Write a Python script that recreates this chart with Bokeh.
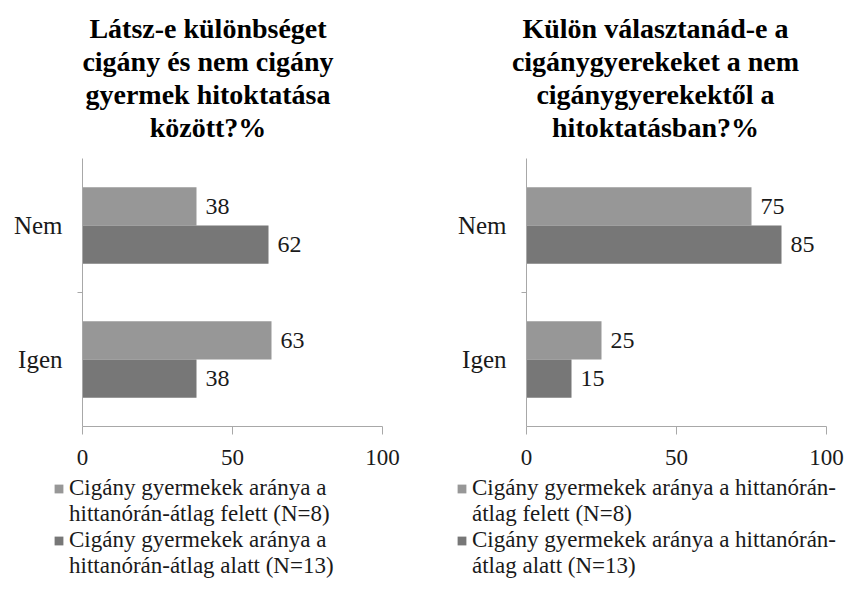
from bokeh.plotting import figure
from bokeh.layouts import row, column
from bokeh.models import (FactorRange, Range1d, LinearAxis, CategoricalAxis, FixedTicker,
                          Legend, LegendItem, ColumnDataSource, CategoricalScale, Title)
from bokeh.transform import dodge
from bokeh.core.properties import value
from bokeh.embed import file_html
from bokeh.resources import INLINE

# ---- data ----
categories = ["Igen", "Nem"]          # bottom to top
x_ticks = [0, 50, 100]

left_title = ["Látsz-e különbséget", "cigány és nem cigány", "gyermek hitoktatása", "között?%"]
left_above = [63, 38]   # Cigány gyermekek aránya a hittanórán-átlag felett (N=8)
left_below = [38, 62]   # Cigány gyermekek aránya a hittanórán-átlag alatt (N=13)
left_legend = [["Cigány gyermekek aránya a", "hittanórán-átlag felett (N=8)"],
               ["Cigány gyermekek aránya a", "hittanórán-átlag alatt (N=13)"]]

right_title = ["Külön választanád-e a", "cigánygyerekeket a nem", "cigánygyerekektől a", "hitoktatásban?%"]
right_above = [25, 75]
right_below = [15, 85]
right_legend = [["Cigány gyermekek aránya a hittanórán-", "átlag felett (N=8)"],
                ["Cigány gyermekek aránya a hittanórán-", "átlag alatt (N=13)"]]

SERIF = "Liberation Serif"
LIGHT = "#979797"
DARK = "#777777"
AXIS = "#a8a8a8"
TXT = "#1a1a1a"

MAIN_H = 476
LEG_H = 103


def make_panel(title_lines, above_vals, below_vals, width, bl, br, shift_pad):
    p = figure(width=width, height=MAIN_H, title=None,
               y_range=FactorRange(factors=categories, range_padding=0),
               x_range=Range1d(0, 100),
               output_backend="svg", toolbar_location=None,
               x_axis_location=None, y_axis_location=None,
               min_border_left=bl, min_border_right=br,
               min_border_top=158, min_border_bottom=50)
    p.grid.visible = False
    p.outline_line_color = None

    src = ColumnDataSource(dict(cat=categories, above=above_vals, below=below_vals,
                                above_txt=[str(v) for v in above_vals],
                                below_txt=[str(v) for v in below_vals]))
    p.hbar(y=dodge('cat', 0.143, range=p.y_range), left=0, right='above', height=0.285,
           fill_color=LIGHT, line_color=None, source=src)
    p.hbar(y=dodge('cat', -0.143, range=p.y_range), left=0, right='below', height=0.285,
           fill_color=DARK, line_color=None, source=src)
    for col, off in (("above", 0.143), ("below", -0.143)):
        p.text(x=col, y=dodge('cat', off, range=p.y_range), text=col + "_txt", source=src,
               x_offset=9, text_baseline="middle", text_align="left",
               text_font=value(SERIF), text_font_size="24px", text_color=TXT)

    xaxis = LinearAxis(ticker=FixedTicker(ticks=x_ticks), axis_line_color=AXIS,
                       major_tick_line_color=AXIS, major_tick_out=8, major_tick_in=0,
                       minor_tick_line_color=None, major_label_standoff=15,
                       major_label_text_font=SERIF, major_label_text_font_size="23px",
                       major_label_text_color=TXT)
    p.add_layout(xaxis, "below")

    # boundary ticks of the category axis (at the edges between categories)
    p.extra_y_ranges = {"b": FactorRange(factors=["b0", "b1", "b2"], range_padding=-0.5,
                                         range_padding_units="absolute")}
    p.extra_y_scales = {"b": CategoricalScale()}
    tick_axis = CategoricalAxis(y_range_name="b",
                                axis_line_color=AXIS, major_tick_line_color=AXIS,
                                major_tick_out=5, major_tick_in=0,
                                major_label_text_font_size="0px", major_label_text_alpha=0,
                                major_label_standoff=0)
    p.add_layout(tick_axis, "left")
    cat_axis = CategoricalAxis(axis_line_color=None, major_tick_line_color=None,
                               major_label_standoff=9, major_label_text_font=SERIF,
                               major_label_text_font_size="25px", major_label_text_color=TXT)
    p.add_layout(cat_axis, "left")

    # gap between the title block and the plot
    p.add_layout(Title(text=" ", text_font_size="12px", standoff=0), "above")
    # multi-line title: one centred Title per line, last line nearest the plot;
    # trailing no-break spaces move the centred lines a little to the left
    for line in reversed(title_lines):
        p.add_layout(Title(text=line + "\u00a0" * shift_pad, align="center",
                           text_font=SERIF, text_font_size="28px", text_font_style="bold",
                           text_color="#000000", standoff=0), "above")
    return p


def make_legend(labels, width, loc):
    q = figure(width=width, height=LEG_H, x_range=Range1d(0, 1), y_range=Range1d(0, 1),
               output_backend="svg", toolbar_location=None, title=None,
               x_axis_location=None, y_axis_location=None,
               min_border=0, min_border_left=0, min_border_right=0,
               min_border_top=0, min_border_bottom=0)
    q.grid.visible = False
    q.outline_line_color = None
    # zero-length placeholder bars, only used to draw the legend swatches
    holder = ColumnDataSource(dict(y=[0.5], right=[0]))
    r1 = q.hbar(y='y', left=0, right='right', height=0.1, fill_color=LIGHT, line_color=None, source=holder)
    r2 = q.hbar(y='y', left=0, right='right', height=0.1, fill_color=DARK, line_color=None, source=holder)
    rb = q.hbar(y='y', left=0, right='right', height=0.1, fill_alpha=0, line_alpha=0, source=holder)
    items = [LegendItem(label=labels[0][0], renderers=[r1]),
             LegendItem(label=labels[0][1], renderers=[rb]),
             LegendItem(label=labels[1][0], renderers=[r2]),
             LegendItem(label=labels[1][1], renderers=[rb])]
    legend = Legend(items=items,
                    location=loc, padding=0, margin=0, spacing=0,
                    border_line_color=None, background_fill_alpha=0,
                    label_text_font=SERIF, label_text_font_size="23px",
                    label_text_color=TXT, label_height=25,
                    glyph_width=11, glyph_height=11, label_standoff=5)
    q.add_layout(legend)
    return q


p1 = make_panel(left_title, left_above, left_below,
                width=430, bl=82, br=48, shift_pad=7)
p2 = make_panel(right_title, right_above, right_below,
                width=420, bl=96, br=24, shift_pad=6)
l1 = make_legend(left_legend, 430, (53, 0))
l2 = make_legend(right_legend, 420, (26, 0))

layout = column(row(p1, p2), row(l1, l2))
open("out.html", "w").write(file_html(layout, INLINE))
